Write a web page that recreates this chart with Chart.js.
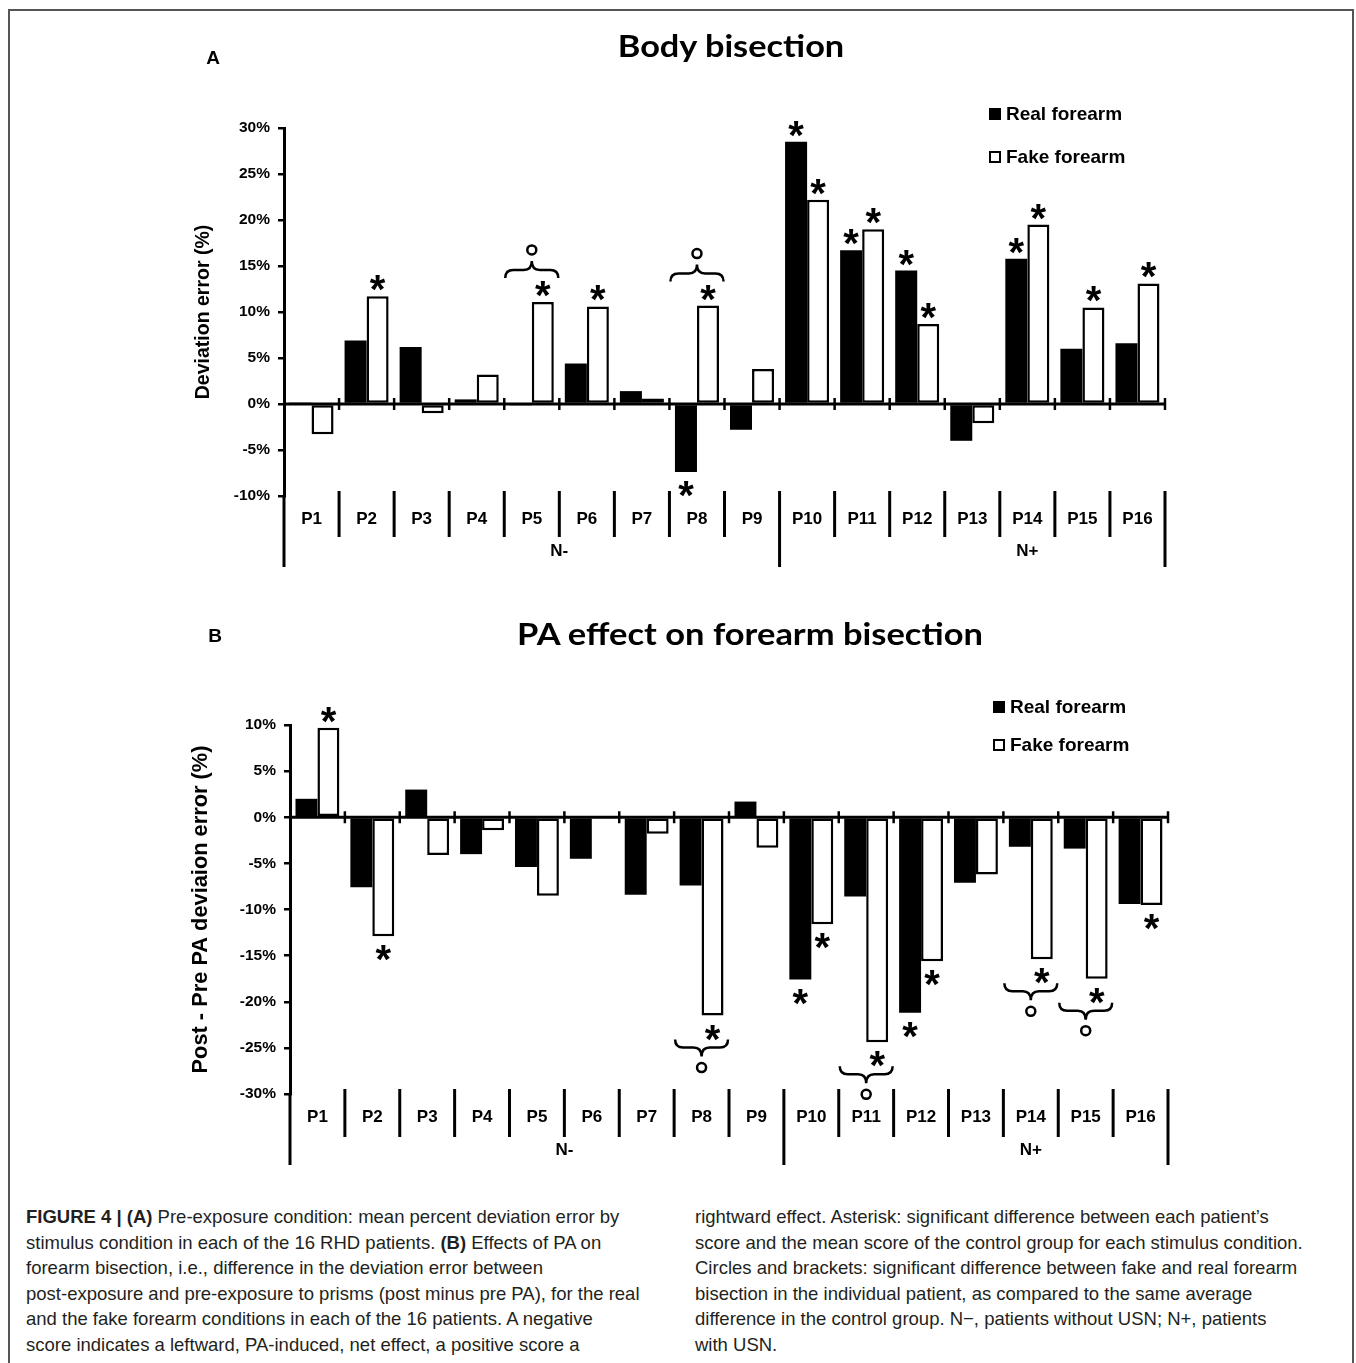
<!DOCTYPE html>
<html><head><meta charset="utf-8">
<script src="https://cdn.jsdelivr.net/npm/chart.js@4.4.1/dist/chart.umd.min.js"></script>
<style>
html,body{margin:0;padding:0;background:#fff;width:1356px;height:1363px;overflow:hidden;position:relative;}
#frame{position:absolute;left:8px;top:9px;width:1346px;height:1420px;border:2px solid #555;box-sizing:border-box;}
canvas{position:absolute;left:0;}
.t{position:absolute;white-space:nowrap;}
.title{font-family:Lato,'Open Sans',sans-serif;font-weight:700;font-size:31px;line-height:1;color:#000;transform:translate(-50%,-50%);}
.panel{font-family:'Liberation Sans',Arial,sans-serif;font-weight:700;font-size:19px;line-height:1;color:#000;transform:translate(-50%,-50%);}
.cap{font-family:'Liberation Sans',Arial,sans-serif;font-size:18.5px;line-height:25.6px;color:#231f20;}
.cap b{font-weight:700;}
</style></head>
<body>
<div id="frame"></div>
<canvas id="cA" width="1356" height="590" style="top:0px"></canvas>
<canvas id="cB" width="1356" height="600" style="top:590px"></canvas>
<div class="t panel" style="left:213px;top:57px">A</div>
<div class="t panel" style="left:215px;top:635px">B</div>
<div class="t title fit" data-w="227" style="left:731px;top:45px">Body bisection</div>
<div class="t title fit" data-w="466" style="left:750px;top:633px">PA effect on forearm bisection</div>
<div class="t cap" style="left:26px;top:1204px"><b>FIGURE 4 | (A)</b> Pre-exposure condition: mean percent deviation error by<br>stimulus condition in each of the 16 RHD patients. <b>(B)</b> Effects of PA on<br>forearm bisection, i.e., difference in the deviation error between<br>post-exposure and pre-exposure to prisms (post minus pre PA), for the real<br>and the fake forearm conditions in each of the 16 patients. A negative<br>score indicates a leftward, PA-induced, net effect, a positive score a</div>
<div class="t cap" style="left:695px;top:1204px">rightward effect. Asterisk: significant difference between each patient’s<br>score and the mean score of the control group for each stimulus condition.<br>Circles and brackets: significant difference between fake and real forearm<br>bisection in the individual patient, as compared to the same average<br>difference in the control group. N−, patients without USN; N+, patients<br>with USN.</div>
<script>
// ---------------- DATA ----------------
const categories = ['P1','P2','P3','P4','P5','P6','P7','P8','P9','P10','P11','P12','P13','P14','P15','P16'];
const seriesNames = ['Real forearm','Fake forearm'];
const groupNames = ['N-','N+'];
const groupCenters = [4.5, 13];
const groupEnds = [9, 16];

const realA = [0.1, 6.9, 6.2, 0.5, -0.1, 4.4, 1.4, -7.4, -2.8, 28.5, 16.7, 14.5, -4.0, 15.8, 6.0, 6.6];
const fakeA = [-3.3, 11.7, -1.0, 3.2, 11.1, 10.6, 0.6, 10.7, 3.8, 22.2, 19.0, 8.7, -2.1, 19.5, 10.5, 13.1];
const realB = [2.0, -7.6, 3.0, -4.0, -5.4, -4.5, -8.4, -7.4, 1.7, -17.6, -8.6, -21.2, -7.1, -3.2, -3.4, -9.4];
const fakeB = [9.7, -12.9, -4.1, -1.4, -8.5, 0.1, -1.8, -21.5, -3.3, -11.6, -24.4, -15.6, -6.2, -15.4, -17.5, -9.5];

const yTicksA = [-10, -5, 0, 5, 10, 15, 20, 25, 30];
const yTicksB = [-30, -25, -20, -15, -10, -5, 0, 5, 10];

const starRealA = [0,0,0,0,0,0,0,1,0,1,1,1,0,1,0,0];
const starFakeA = [0,1,0,0,1,1,0,1,0,1,1,1,0,1,1,1];
const bracketA  = [0,0,0,0,1,0,0,1,0,0,0,0,0,0,0,0];
const starRealB = [0,0,0,0,0,0,0,0,0,1,0,1,0,0,0,0];
const starFakeB = [1,1,0,0,0,0,0,1,0,1,1,1,0,1,1,1];
const bracketB  = [0,0,0,0,0,0,0,1,0,0,1,0,0,1,1,0];

// --------------------------------------
const FONT = "'Liberation Sans', Arial, sans-serif";
const STAR_PX = 40;

const decoPlugin = {
  id: 'deco',
  afterDatasetsDraw(chart, args, o) {
    const ctx = chart.ctx, ca = chart.chartArea, x = chart.scales.x, y = chart.scales.y;
    const n = chart.data.labels.length;
    const y0 = y.getPixelForValue(0);
    const bx = k => x.getPixelForValue(k - 0.5);
    ctx.save();
    ctx.strokeStyle = '#000'; ctx.fillStyle = '#000'; ctx.lineCap = 'butt';
    // zero axis line with category ticks
    ctx.lineWidth = 3;
    ctx.beginPath(); ctx.moveTo(ca.left, y0); ctx.lineTo(bx(n) + 1, y0); ctx.stroke();
    ctx.lineWidth = 2.5;
    for (let k = 1; k <= n; k++) {
      const px = bx(k);
      ctx.beginPath(); ctx.moveTo(px, y0 - 6); ctx.lineTo(px, y0 + 6); ctx.stroke();
    }
    // label separators
    ctx.lineWidth = 3;
    for (let k = 0; k <= n; k++) {
      const px = bx(k);
      const isLong = k === 0 || groupEnds.includes(k);
      const top = k === 0 ? ca.bottom : ca.bottom - o.sepUp;
      const bot = isLong ? o.bottomEnd : ca.bottom - o.sepUp + o.sepLen;
      ctx.beginPath(); ctx.moveTo(px, top); ctx.lineTo(px, bot); ctx.stroke();
    }
    // group labels
    ctx.font = 'bold 17px ' + FONT; ctx.textAlign = 'center'; ctx.textBaseline = 'middle';
    groupNames.forEach((g, i) => ctx.fillText(g, x.getPixelForValue(groupCenters[i]), o.groupY));
    // asterisks (glyph centre sits ~0.55em above the baseline)
    ctx.font = 'bold ' + STAR_PX + 'px ' + FONT;
    const baseOff = 0.55 * STAR_PX;
    ctx.textAlign = 'center'; ctx.textBaseline = 'alphabetic';
    o.stars.forEach((arr, d) => {
      const meta = chart.getDatasetMeta(d);
      arr.forEach((s, i) => {
        if (!s) return;
        const el = meta.data[i];
        const v = chart.data.datasets[d].data[i];
        const cy = v >= 0 ? el.y - 15 : el.y + 15;
        ctx.fillText('*', el.x, cy + baseOff);
      });
    });
    // brackets and circles
    ctx.lineWidth = 2.5;
    o.brackets.forEach((b, i) => {
      if (!b) return;
      const cx = x.getPixelForValue(i);
      const ys = [0, 1].map(d => chart.getDatasetMeta(d).data[i].y);
      const vals = [0, 1].map(d => chart.data.datasets[d].data[i]);
      const up = Math.abs(Math.max(...vals)) >= Math.abs(Math.min(...vals)) && Math.max(...vals) > 0;
      const s = up ? -1 : 1;
      const edge = up ? Math.min(...ys) : Math.max(...ys);
      const yE = edge + s * 24, yM = edge + s * 32, yC = edge + s * 41;
      const hw = (bx(1) - bx(0)) / 2 - 1, L = cx - hw, R = cx + hw, q = 8;
      ctx.beginPath();
      ctx.moveTo(L, yE);
      ctx.quadraticCurveTo(L, yM, L + q, yM);
      ctx.lineTo(cx - q, yM);
      ctx.quadraticCurveTo(cx, yM, cx, yC);
      ctx.quadraticCurveTo(cx, yM, cx + q, yM);
      ctx.lineTo(R - q, yM);
      ctx.quadraticCurveTo(R, yM, R, yE);
      ctx.stroke();
      ctx.beginPath(); ctx.arc(cx, edge + s * 52, 4.5, 0, Math.PI * 2); ctx.stroke();
    });
    // legend
    ctx.font = 'bold 19px ' + FONT; ctx.textAlign = 'left'; ctx.textBaseline = 'middle';
    chart.data.datasets.forEach((ds, d) => {
      const lx = o.legend.x, ly = o.legend.y[d];
      if (d === 0) { ctx.fillStyle = '#000'; ctx.fillRect(lx, ly - 6, 12, 12); }
      else { ctx.fillStyle = '#fff'; ctx.fillRect(lx, ly - 6, 12, 12); ctx.lineWidth = 2; ctx.strokeRect(lx + 1, ly - 5, 10, 10); }
      ctx.fillStyle = '#000';
      ctx.fillText(ds.label, lx + 17, ly + 1);
    });
    ctx.restore();
  }
};

function build(id, real, fake, ticks, yTitle, L, D) {
  return new Chart(document.getElementById(id), {
    type: 'bar',
    data: {
      labels: categories,
      datasets: [
        { label: seriesNames[0], data: real, backgroundColor: '#000', borderColor: '#000', borderWidth: 0,
          categoryPercentage: 0.8, barPercentage: 1.0 },
        { label: seriesNames[1], data: fake, backgroundColor: '#fff', borderColor: '#000', borderWidth: 2.5,
          borderSkipped: false, categoryPercentage: 0.8, barPercentage: 1.0 }
      ]
    },
    options: {
      responsive: false, animation: false, devicePixelRatio: 1,
      layout: { padding: { left: L.left, right: L.right, top: L.top, bottom: L.bottom } },
      plugins: { legend: { display: false }, tooltip: { enabled: false }, title: { display: false }, deco: D },
      scales: {
        x: {
          grid: { display: false, drawTicks: false }, border: { display: false },
          ticks: { color: '#000', font: { family: FONT, size: 17, weight: 'bold' }, padding: 13, maxRotation: 0, autoSkip: false },
          afterFit(s) { s.height = 60; }
        },
        y: {
          min: ticks[0], max: ticks[ticks.length - 1],
          afterBuildTicks(s) { s.ticks = ticks.map(v => ({ value: v })); },
          grid: { display: true, drawOnChartArea: false, drawTicks: true, tickLength: 6, color: '#000', lineWidth: 2.5 },
          border: { display: true, color: '#000', width: 3 },
          ticks: { color: '#000', font: { family: FONT, size: 15.5, weight: 'bold' }, padding: 8, callback: v => v + '%' },
          title: { display: true, text: yTitle, color: '#000', font: { family: FONT, size: L.tsize, weight: 'bold' },
                   padding: { top: L.tpad, bottom: 0 } },
          afterFit(s) { s.width = 110; }
        }
      }
    },
    plugins: [decoPlugin]
  });
}

build('cA', realA, fakeA, yTicksA, 'Deviation error (%)',
  { left: 174, right: 191, top: 128, bottom: 34, tsize: 19.5, tpad: 18 },
  { stars: [starRealA, starFakeA], brackets: bracketA, sepUp: 5, sepLen: 46, bottomEnd: 567, groupY: 551,
    legend: { x: 989, y: [114, 157] } });

build('cB', realB, fakeB, yTicksB, 'Post - Pre PA deviaion error (%)',
  { left: 180, right: 188, top: 135, bottom: 36, tsize: 21.8, tpad: 8 },
  { stars: [starRealB, starFakeB], brackets: bracketB, sepUp: 5, sepLen: 48, bottomEnd: 575, groupY: 560,
    legend: { x: 993, y: [117, 155] } });

document.querySelectorAll('.fit').forEach(el => {
  const w = el.offsetWidth;
  const s = parseFloat(el.dataset.w) / w;
  el.style.transform = 'translate(-50%,-50%) scaleX(' + s.toFixed(3) + ')';
});
</script>
</body></html>
